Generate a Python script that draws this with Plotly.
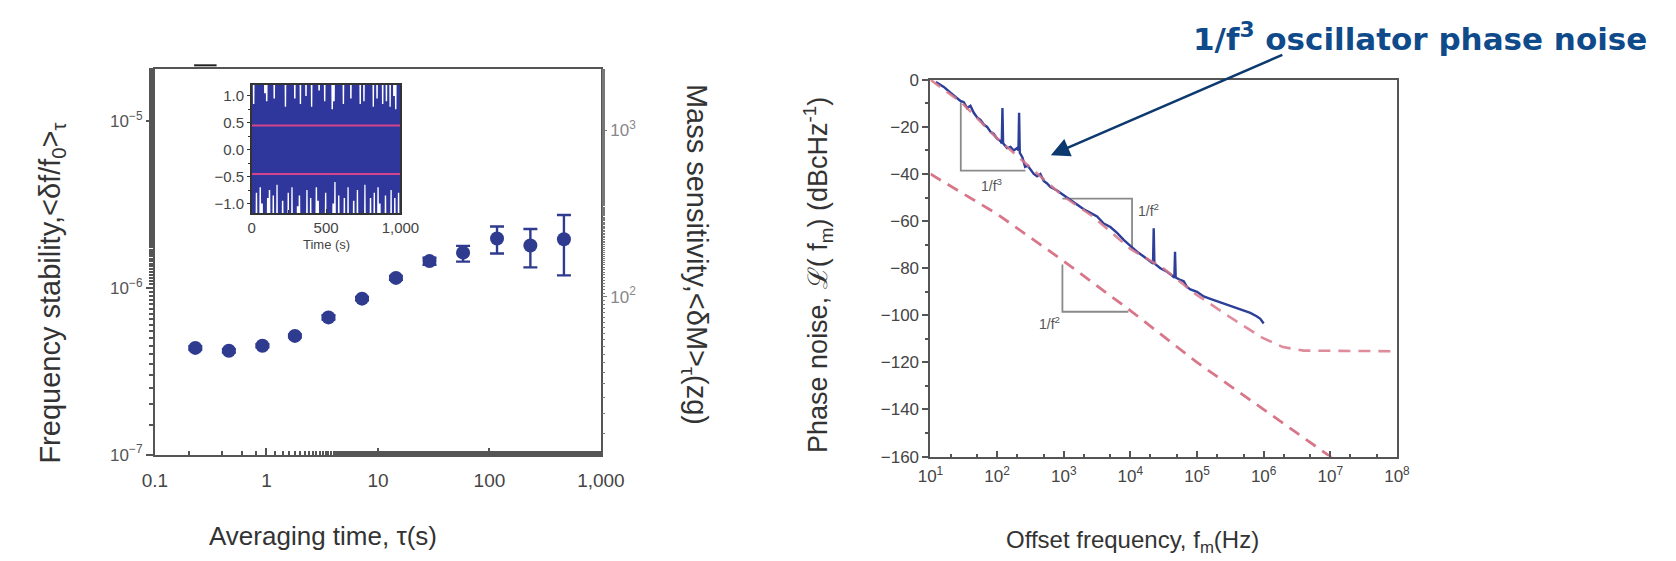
import numpy as np
import plotly.graph_objects as go

W, H = 1676, 561

# ---------------- Left panel data ----------------
tau_s = [0.23, 0.46, 0.92, 1.8, 3.6, 7.2, 14.5, 29, 58, 117, 233, 466]
stability = [4.37e-7, 4.2e-7, 4.5e-7, 5.16e-7, 6.66e-7, 8.63e-7, 1.15e-6,
             1.45e-6, 1.63e-6, 1.98e-6, 1.80e-6, 1.96e-6]
err_plus = [0.1e-7, 0.1e-7, 0.1e-7, 0.1e-7, 0.2e-7, 0.2e-7, 0.3e-7, 0.07e-6,
            0.16e-6, 0.36e-6, 0.46e-6, 0.78e-6]
err_minus = [0.1e-7, 0.1e-7, 0.1e-7, 0.1e-7, 0.2e-7, 0.2e-7, 0.3e-7, 0.07e-6,
             0.19e-6, 0.37e-6, 0.47e-6, 0.77e-6]

stab_ticks = [1e-7, 1e-6, 1e-5]
stab_ticktext = ["10<sup>−7</sup>", "10<sup>−6</sup>", "10<sup>−5</sup>"]
tau_ticks = [0.1, 1, 10, 100, 1000]
tau_ticktext = ["0.1", "1", "10", "100", "1,000"]
mass_ticks = [100, 1000]
mass_ticktext = ["10<sup>2</sup>", "10<sup>3</sup>"]

# inset: frequency-fluctuation record (estimated envelope of the noise)
inset_peaks = [1.3, 0.85, 1.3, 1.3, 1.3, 1.3, 1.3, 1.05, 0.9, 1.3,
               1.3, 1.3, 0.95, 1.3, 1.3, 1.3, 1.3, 1.3, 0.8, 1.3,
               1.3, 1.3, 1.3, 0.95, 1.3, 1.3, 0.85, 1.3, 1.3, 1.0,
               1.3, 1.3, 0.8, 1.3, 1.3, 1.3, 1.1, 1.3, 1.3, 0.9,
               1.3, 1.3, 1.3, 0.75, 0.9, 1.3, 1.3, 1.3, 1.3, 0.85,
               1.3, 1.3, 1.3, 0.95, 1.3, 1.3, 1.3, 1.3, 0.85, 1.3,
               0.9, 1.3, 1.3, 1.3, 1.3, 0.8, 1.3, 0.95, 1.3, 1.3,
               0.85, 1.3, 0.9, 1.3, 0.8, 1.3, 1.0, 0.75, 1.3, 1.3]
inset_troughs = [-1.3, -1.3, -0.8, -1.3, -0.7, -1.0, -1.3, -1.3, -0.9, -0.75,
                 -1.3, -0.85, -1.3, -0.65, -1.3, -1.3, -0.95, -1.3, -1.3, -0.8,
                 -1.3, -0.7, -1.3, -1.3, -1.05, -0.85, -1.3, -1.3, -1.3, -0.75,
                 -1.3, -0.9, -1.3, -1.3, -0.7, -0.95, -1.3, -1.3, -1.3, -0.8,
                 -1.3, -1.3, -1.3, -1.0, -0.6, -1.3, -0.85, -1.3, -1.3, -0.9,
                 -1.3, -0.7, -1.3, -1.3, -0.95, -1.3, -0.75, -1.3, -1.3, -1.3,
                 -0.65, -1.3, -1.3, -0.9, -1.3, -0.8, -1.3, -0.7, -1.0, -1.3,
                 -1.3, -0.85, -1.3, -1.3, -0.75, -1.3, -0.9, -1.3, -0.8, -1.3]
inset_time_span = [0, 1000]
inset_level = 0.45
inset_yticks = [-1.0, -0.5, 0.0, 0.5, 1.0]
inset_yticktext = ["−1.0", "−0.5", "0.0", "0.5", "1.0"]
inset_xticks = [0, 500, 1000]
inset_xticktext = ["0", "500", "1,000"]

# ---------------- Right panel data ----------------
fit_upper_f = [10, 10**1.465, 10**1.99, 10**2.51, 10**2.98, 10**3.44, 10**4.0,
               10**4.49, 10**4.98, 10**5.48, 10**5.97, 10**6.29, 10**6.6, 10**8.2]
fit_upper_db = [0, -9.6, -24.6, -37.6, -49.2, -58.1, -71.8, -80, -91, -100.5,
                -109.4, -113.5, -115, -115.3]
fit_lower_f = [10, 1e2, 1e3, 1e4, 1e5, 1e6, 1e7, 10**7.05]
fit_lower_db = [-40, -57, -77, -98, -120, -140, -160, -161]

meas_logf = [1.08, 1.2, 1.3, 1.4, 1.45, 1.5, 1.55, 1.6, 1.65, 1.7, 1.75, 1.8,
             1.85, 1.9, 1.95, 2.0, 2.05, 2.07, 2.08, 2.09, 2.15, 2.2, 2.25,
             2.3, 2.32, 2.33, 2.34, 2.38, 2.42, 2.46, 2.5, 2.55, 2.6, 2.65,
             2.7, 2.75, 2.8, 2.9, 3.0, 3.1, 3.2, 3.3, 3.4, 3.5, 3.6, 3.7,
             3.8, 3.9, 4.0, 4.1, 4.2, 4.3, 4.34, 4.35, 4.36, 4.45, 4.55,
             4.62, 4.66, 4.67, 4.68, 4.75, 4.8, 4.85, 4.9, 5.0, 5.1, 5.2,
             5.3, 5.4, 5.5, 5.6, 5.7, 5.8, 5.9, 5.95, 6.0]
meas_db = [-1, -3, -5.5, -8, -9, -9.5, -12, -11, -14, -16, -17, -19,
           -20, -22, -23, -25, -26, -27, -12, -27, -29, -28.5, -30,
           -29, -30, -14, -31, -33, -37, -36.5, -38, -40, -41, -40,
           -43, -44, -45.5, -47, -49, -51, -53, -55, -56.5, -58, -61, -62.5,
           -65, -68, -70.5, -73, -75, -77, -78, -63, -78, -80, -81.5,
           -83, -84, -73, -84, -85, -85.5, -88, -89, -90, -92, -93,
           -94, -95, -95.8, -97, -97.8, -99, -100.5, -101.5, -103.5]

tri3_f = [10**1.455, 10**1.455, 10**2.424]
tri3_db = [-9.5, -38.6, -38.6]
tri2a_f = [10**2.98, 10**4.025, 10**4.025]
tri2a_db = [-50.5, -50.5, -71.8]
tri2b_f = [10**2.98, 10**2.98, 10**3.97]
tri2b_db = [-78.4, -98.5, -98.5]

pn_xticks = [10**k for k in range(1, 9)]
pn_xticktext = ["10<sup>%d</sup>" % k for k in range(1, 9)]


def px(x):
    return x / W


def py(y):
    return (H - y) / H


FONT = "Liberation Sans, Arial, sans-serif"
BLUE = "#2e3b8f"
RED = "#d9778a"
AX = "#555555"

fig = go.Figure()

# left panel points
fig.add_trace(go.Scatter(
    x=tau_s, y=stability, mode="markers", xaxis="x", yaxis="y",
    marker=dict(color=BLUE, size=14),
    error_y=dict(type="data", symmetric=False, array=err_plus,
                 arrayminus=err_minus, color=BLUE, thickness=2.4, width=7),
    showlegend=False, hoverinfo="skip"))
# invisible trace to carry the mass-sensitivity axis
fig.add_trace(go.Scatter(x=[1], y=[200], mode="markers", xaxis="x", yaxis="y2",
                         marker=dict(opacity=0), showlegend=False,
                         hoverinfo="skip"))

# inset noise
t0, t1 = inset_time_span
n = len(inset_peaks) + len(inset_troughs)
inset_t = np.linspace(t0, t1, n)
inset_v = []
for p, q in zip(inset_peaks, inset_troughs):
    inset_v.extend([p, q])
fig.add_trace(go.Scatter(x=inset_t, y=inset_v, mode="lines", xaxis="x3",
                         yaxis="y4", line=dict(color="#2f379c", width=2),
                         showlegend=False, hoverinfo="skip"))
for lv in (inset_level, -inset_level):
    fig.add_trace(go.Scatter(x=inset_time_span, y=[lv, lv], mode="lines",
                             xaxis="x3", yaxis="y4",
                             line=dict(color="#d2448c", width=2),
                             showlegend=False, hoverinfo="skip"))

# right panel
for fx, fy in ((tri3_f, tri3_db), (tri2a_f, tri2a_db), (tri2b_f, tri2b_db)):
    fig.add_trace(go.Scatter(x=fx, y=fy, mode="lines", xaxis="x2", yaxis="y3",
                             line=dict(color="#8a8a8a", width=1.8),
                             showlegend=False, hoverinfo="skip"))
fig.add_trace(go.Scatter(x=fit_lower_f, y=fit_lower_db, mode="lines",
                         xaxis="x2", yaxis="y3",
                         line=dict(color=RED, width=2.8, dash="12px,8px"),
                         showlegend=False, hoverinfo="skip"))
fig.add_trace(go.Scatter(x=[10 ** v for v in meas_logf], y=meas_db, mode="lines",
                         xaxis="x2", yaxis="y3",
                         line=dict(color="#2d3f99", width=2.4),
                         showlegend=False, hoverinfo="skip"))
fig.add_trace(go.Scatter(x=fit_upper_f, y=fit_upper_db, mode="lines",
                         xaxis="x2", yaxis="y3",
                         line=dict(color=RED, width=2.6, dash="12px,8px"),
                         opacity=0.85, showlegend=False, hoverinfo="skip"))

common = dict(showgrid=False, zeroline=False, showline=True, mirror=True,
              linecolor=AX, linewidth=2, tickcolor=AX)

fig.update_layout(
    width=W, height=H, margin=dict(l=0, r=0, t=0, b=0),
    paper_bgcolor="white", plot_bgcolor="white",
    font=dict(family=FONT, color="#444"),
    xaxis=dict(domain=[px(137), px(593)], type="log", range=[-1, 3],
               anchor="y", tickvals=tau_ticks, ticktext=tau_ticktext,
               ticks="inside", ticklen=7, tickwidth=1.5,
               minor=dict(ticks="inside", ticklen=4, tickcolor=AX),
               ticklabelstandoff=8,
               tickfont=dict(size=19, color="#444"), **common),
    yaxis=dict(domain=[py(453), py(54)], type="log", range=[-7, -4.687],
               anchor="x", tickvals=stab_ticks, ticktext=stab_ticktext,
               ticks="outside", ticklen=7, tickwidth=1.5,
               minor=dict(ticks="outside", ticklen=4, tickcolor=AX),
               tickfont=dict(size=17, color="#555"), **common),
    yaxis2=dict(overlaying="y", side="right", anchor="x", type="log",
                range=[1.052, 3.365], tickvals=mass_ticks,
                ticktext=mass_ticktext, ticks="outside", ticklen=5,
                tickcolor="#777", showline=False, showgrid=False,
                zeroline=False,
                minor=dict(ticks="outside", ticklen=3, tickcolor="#777"),
                tickfont=dict(size=17, color="#888")),
    xaxis2=dict(domain=[px(930), px(1407)], type="log", range=[1, 8],
                anchor="y3", tickvals=pn_xticks, ticktext=pn_xticktext,
                ticks="inside", ticklen=6, tickwidth=1.5,
                minor=dict(ticks="inside", ticklen=3, tickcolor=AX),
                ticklabelstandoff=3,
                tickfont=dict(size=17, color="#444"), **common),
    yaxis3=dict(domain=[py(455), py(65)], range=[-160, 0], anchor="x2",
                dtick=20, ticks="outside", ticklen=6, tickwidth=1.5,
                minor=dict(dtick=10, ticks="outside", ticklen=3,
                           tickcolor=AX),
                tickfont=dict(size=17, color="#444"), **common),
    xaxis3=dict(domain=[px(236), px(388)], range=inset_time_span,
                anchor="y4", tickvals=inset_xticks, ticktext=inset_xticktext,
                ticks="inside", ticklen=4,
                minor=dict(ticks="inside", ticklen=3, dtick=250,
                           tickcolor="#333"),
                tickfont=dict(size=15, color="#444"),
                showgrid=False, zeroline=False, showline=True, mirror=True,
                linecolor="#333", linewidth=1.5, tickcolor="#333"),
    yaxis4=dict(domain=[py(203), py(70)], range=[-1.18, 1.21], anchor="x3",
                tickvals=inset_yticks, ticktext=inset_yticktext,
                ticks="outside", ticklen=3,
                minor=dict(ticks="outside", ticklen=2, dtick=0.25,
                           tickcolor="#333"),
                tickfont=dict(size=15, color="#444"),
                showgrid=False, zeroline=False, showline=True, mirror=True,
                linecolor="#333", linewidth=1.5, tickcolor="#333"),
)

ann = []


def paper_text(text, x, y, size, angle=0, color="#333", xanchor="center",
               family=FONT):
    ann.append(dict(text=text, x=px(x), y=py(y), xref="paper", yref="paper",
                    showarrow=False, textangle=angle, xanchor=xanchor,
                    yanchor="middle", font=dict(size=size, color=color,
                                                family=family)))


paper_text("Frequency stability,&lt;δf/f<sub>0</sub>&gt;<sub>τ</sub>", 32, 286,
           29, angle=-90)
paper_text("Averaging time, τ(s)", 309, 537, 26)
paper_text("Mass sensitivity,&lt;δM&gt;<sub>τ</sub>(zg)", 690, 246, 29, angle=90)
paper_text("Time (s)", 312, 235, 13, color="#444")
paper_text("Phase noise, ℒ( f<sub>m</sub>) (dBcHz<sup>-1</sup>)", 815, 267, 27,
           angle=-90)
paper_text("Offset frequency, f<sub>m</sub>(Hz)", 1137, 543, 24)
paper_text("<b>1/f<sup>3</sup> oscillator phase noise</b>", 1196, 21, 31,
           color="#0f4a8a", xanchor="left",
           family="DejaVu Sans, Verdana, sans-serif")

# slope labels (data coords of the right panel)
for txt, lx, ly in (("1/f<sup>3</sup>", 1.92, -44.5),
                    ("1/f<sup>2</sup>", 4.27, -55.4),
                    ("1/f<sup>2</sup>", 2.79, -103.4)):
    ann.append(dict(text=txt, x=lx, y=ly, xref="x2", yref="y3",
                    showarrow=False, font=dict(size=14, color="#555")))

# arrow pointing at the 1/f^3 region
ann.append(dict(text="", x=2.806, y=-32, xref="x2", yref="y3",
                showarrow=True, ax=233, ay=-101, arrowhead=2, arrowsize=1.5,
                arrowwidth=2.5, arrowcolor="#0d3a6e", standoff=0))

fig.update_layout(annotations=ann)

# small bracket artifact on the top frame of the left panel
fig.add_shape(type="line", xref="paper", yref="paper", x0=px(177), x1=px(200),
              y0=py(50), y1=py(50), line=dict(color="#222", width=2))

fig.write_html("out.html")
